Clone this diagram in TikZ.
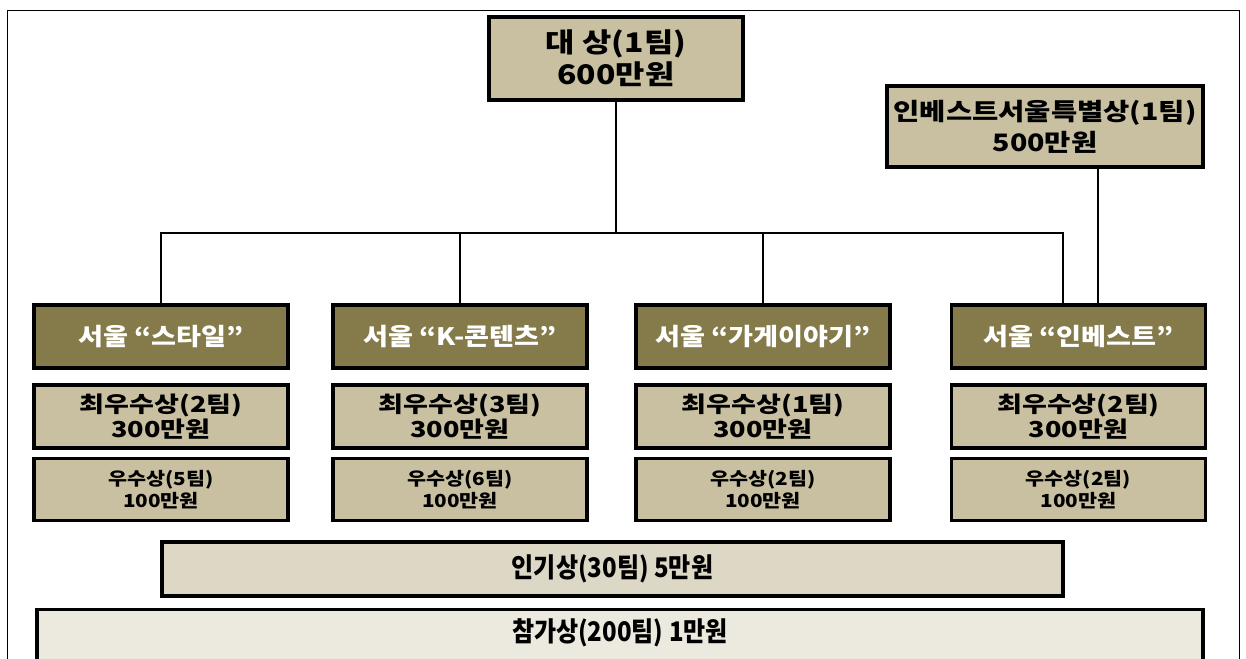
\documentclass[tikz,border=0pt]{standalone}
\usepackage{fontspec}
\usepackage{graphicx}
\setmainfont{Noto Sans CJK KR}
\definecolor{tanfill}{RGB}{200,192,160}
\definecolor{olive}{RGB}{132,122,74}
\definecolor{lightbar}{RGB}{221,216,198}
\definecolor{palebar}{RGB}{236,234,223}
\newcommand\sx[2]{\scalebox{#1}[1]{#2}}
\tikzset{
  box/.style={draw=black, line width=3.4pt, inner sep=0pt, align=center, font=\bfseries, text=black},
  award/.style={box, fill=tanfill},
  cat/.style={box, fill=olive, text=white},
  link/.style={draw=black, line width=1.3pt},
}
\begin{document}
\begin{tikzpicture}[x=1pt,y=-1pt]
\useasboundingbox (0,0) rectangle (1246,658);
\fill[white] (0,0) rectangle (1246,658);
\draw[line width=1pt] (7,700) -- (7,11) -- (1239,11) -- (1239,700);
% top
\node[award, minimum width=254pt, minimum height=83pt, font=\bfseries\fontsize{27}{32}\selectfont] (top) at (616,58.5) {\sx{1.18}{대 상(1팀)}\\\sx{1.18}{600만원}};
\node[award, minimum width=316pt, minimum height=81pt, font=\bfseries\fontsize{24}{31}\selectfont] (inv) at (1045,126.5) {\sx{1.19}{인베스트서울특별상(1팀)}\\\sx{1.19}{500만원}};
% categories
\tikzset{catf/.style={cat, minimum width=254pt, minimum height=63pt, font=\bfseries\fontsize{24}{28}\selectfont}}
\node[catf] (c1) at (161,336.5) {\sx{1.13}{서울 “스타일”}};
\node[catf] (c2) at (460,336.5) {\sx{1.13}{서울 “K-콘텐츠”}};
\node[catf] (c3) at (763,336.5) {\sx{1.13}{서울 “가게이야기”}};
\node[catf] (c4) at (1078.5,336.5) {\sx{1.13}{서울 “인베스트”}};
% second row
\tikzset{r2/.style={award, minimum width=254pt, minimum height=63pt, font=\bfseries\fontsize{22}{25}\selectfont}}
\node[r2] (b1) at (161,416.5) {\sx{1.23}{최우수상(2팀)}\\\sx{1.23}{300만원}};
\node[r2] (b2) at (460,416.5) {\sx{1.23}{최우수상(3팀)}\\\sx{1.23}{300만원}};
\node[r2] (b3) at (763,416.5) {\sx{1.23}{최우수상(1팀)}\\\sx{1.23}{300만원}};
\node[r2] (b4) at (1078.5,416.5) {\sx{1.23}{최우수상(2팀)}\\\sx{1.23}{300만원}};
% third row
\tikzset{r3/.style={award, minimum width=254pt, minimum height=62pt, font=\bfseries\fontsize{18}{22}\selectfont}}
\node[r3] (d1) at (161,489.5) {\sx{1.15}{우수상(5팀)}\\\sx{1.15}{100만원}};
\node[r3] (d2) at (460,489.5) {\sx{1.15}{우수상(6팀)}\\\sx{1.15}{100만원}};
\node[r3] (d3) at (763,489.5) {\sx{1.15}{우수상(2팀)}\\\sx{1.15}{100만원}};
\node[r3] (d4) at (1078.5,489.5) {\sx{1.15}{우수상(2팀)}\\\sx{1.15}{100만원}};
% bars
\node[box, fill=lightbar, minimum width=901pt, minimum height=54pt, font=\bfseries\fontsize{27}{30}\selectfont] (pop) at (612.5,569) {\sx{0.89}{인기상(30팀) 5만원}};
\node[box, fill=palebar, minimum width=1166pt, minimum height=70pt, anchor=north] (part) at (620,608) {};
\node[font=\bfseries\fontsize{27}{30}\selectfont, inner sep=0pt] (partlabel) at ([yshift=-25pt]part.north) {\sx{0.89}{참가상(200팀) 1만원}};
% connectors
\coordinate (j) at (top.south |- 0,233);
\draw[link] (top.south) -- (j);
\draw[link] (c1.north -| 161,0) -- (161,233) -- (1063,233) -- (1063,0 |- c4.north);
\draw[link] (460,233) -- (460,0 |- c2.north);
\draw[link] (763,233) -- (763,0 |- c3.north);
\draw[link] (inv.south -| 1098,0) -- (1098,0 |- c4.north);
\end{tikzpicture}
\end{document}
